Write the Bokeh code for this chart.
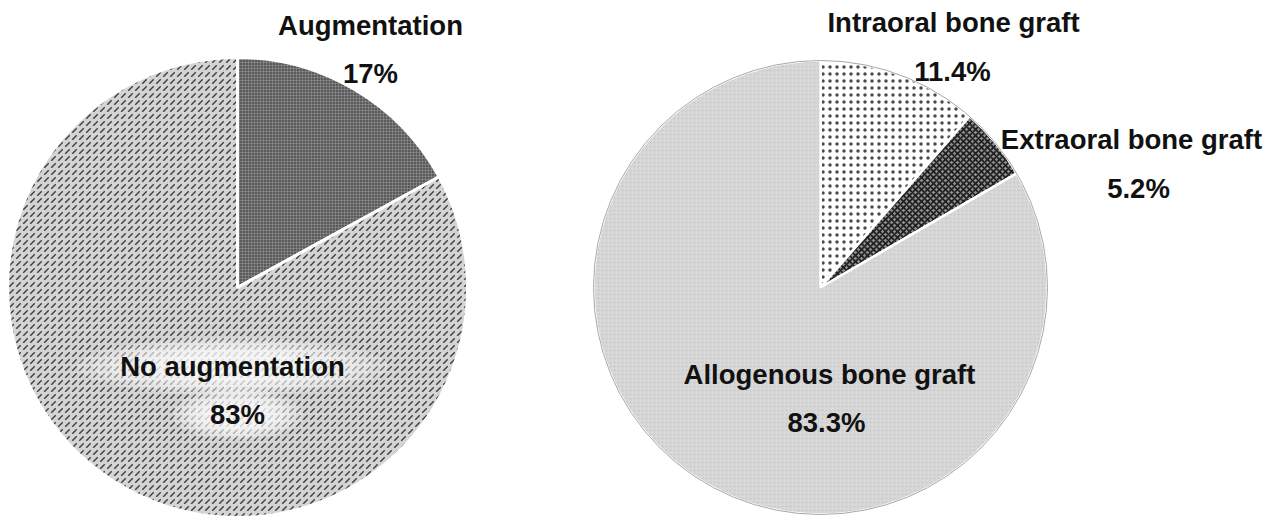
import math
from bokeh.plotting import figure
from bokeh.models import Range1d
from bokeh.core.properties import value
from bokeh.embed import file_html
from bokeh.resources import INLINE

# ---- data ----
left_labels = ["Augmentation", "No augmentation"]
left_values = [17, 83]
left_pct = ["17%", "83%"]

right_labels = ["Intraoral bone graft", "Extraoral bone graft", "Allogenous bone graft"]
right_values = [11.4, 5.2, 83.3]
right_pct = ["11.4%", "5.2%", "83.3%"]

# ---- layout (screen pixels) ----
W, H = 1275, 519
def Y(sy):
    return H - sy

p = figure(width=W, height=H, x_range=Range1d(0, W), y_range=Range1d(0, H),
           output_backend="svg", toolbar_location=None, min_border=0)
p.axis.visible = False
p.grid.visible = False
p.outline_line_color = None
p.background_fill_color = "white"
p.border_fill_color = "white"

def wedges(vals):
    tot = sum(vals)
    out = []
    cum = 0.0
    for v in vals:
        a0 = math.radians(90 - (cum + v) / tot * 360)
        a1 = math.radians(90 - cum / tot * 360)
        out.append((a0, a1))
        cum += v
    return out

# Left pie
lc = (237, Y(287)); lr = 230
lstyles = [
    dict(fill_color="#5a5a5a", hatch_pattern="cross", hatch_color="#b8b8b8", hatch_scale=3, hatch_weight=0.6, hatch_alpha=0.55),
    dict(fill_color="#d4d4d4", hatch_pattern="right_diagonal_dash", hatch_color="#1a1a1a", hatch_scale=7, hatch_weight=1.5, hatch_alpha=0.8),
]
for (a0, a1), st in zip(wedges(left_values), lstyles):
    p.wedge(x=lc[0], y=lc[1], radius=lr, start_angle=a0, end_angle=a1,
            line_color="white", line_width=3, **st)

# soft glow behind inner label
for k in range(6):
    s = 1 - k * 0.1
    p.ellipse(x=[232, 237], y=[Y(366), Y(414)], width=[310 * s, 130 * s], height=[58 * s, 52 * s],
              fill_color="white", fill_alpha=0.22, line_color=None)

# Right pie
rc = (820, Y(287)); rr = 227
rstyles = [
    dict(fill_color="white", hatch_pattern="dot", hatch_color="#4a4a4a", hatch_scale=7, hatch_weight=7),
    dict(fill_color="#8c8c8c", hatch_pattern="diagonal_cross", hatch_color="#1e1e1e", hatch_scale=6, hatch_weight=1.6),
    dict(fill_color="#d8d8d8", hatch_pattern="dot", hatch_color="#c6c6c6", hatch_scale=4, hatch_weight=1),
]
for (a0, a1), st in zip(wedges(right_values), rstyles):
    p.wedge(x=rc[0], y=rc[1], radius=rr, start_angle=a0, end_angle=a1,
            line_color="white", line_width=2.5, **st)
p.circle(x=rc[0], y=rc[1], radius=rr, fill_color=None, line_color="#a8a8a8", line_width=1)

# labels
lab_pos_left = [((370, 25), (370, 73)), ((232, 366), (237, 414))]
lab_pos_right = [((953, 22), (952, 71)), ((1131, 139), (1138, 188)), ((829, 374), (826, 422))]

tx, ty, tt = [], [], []
for names, pcts, poss in [(left_labels, left_pct, lab_pos_left), (right_labels, right_pct, lab_pos_right)]:
    for n, pc, (a, b) in zip(names, pcts, poss):
        tx += [a[0], b[0]]; ty += [Y(a[1]), Y(b[1])]; tt += [n, pc]

p.text(x=tx, y=ty, text=tt, text_align="center", text_baseline="middle",
       text_font=value("Liberation Sans"), text_font_style="bold",
       text_font_size="27.5px", text_color="#111111")

open("out.html", "w").write(file_html(p, INLINE))
